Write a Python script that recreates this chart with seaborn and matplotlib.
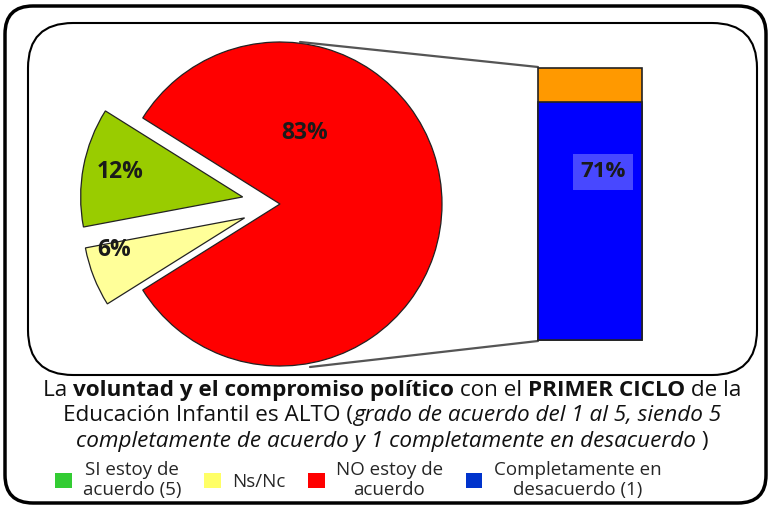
import numpy as np
import pandas as pd
import matplotlib
matplotlib.use("Agg")
import matplotlib.pyplot as plt
import seaborn as sns
from matplotlib.patches import FancyBboxPatch, Patch

# ---------------- data ----------------
pie_categories = ["SI estoy de acuerdo (5)", "Ns/Nc", "NO estoy de acuerdo"]
pie_values = [12, 6, 83]
pie_colors = ["#99CC00", "#FFFF99", "#FF0000"]

bar_categories = ["Completamente en desacuerdo (1)", "Otros NO"]
bar_values = [71, 10]
bar_colors = ["#0000FF", "#FF9900"]

legend_labels = ["SI estoy de\nacuerdo (5)", "Ns/Nc", "NO estoy de\nacuerdo",
                 "Completamente en\ndesacuerdo (1)"]
legend_colors = ["#33CC33", "#FFFF66", "#FF0000", "#0033CC"]

# ---------------- setup ----------------
sns.set_theme(style="white")
plt.rcParams['font.family'] = ['Open Sans', 'DejaVu Sans']

W, H = 771, 507
fig = plt.figure(figsize=(W / 100, H / 100), dpi=100)
ax = fig.add_axes([0, 0, 1, 1])

# frames
ax.add_patch(FancyBboxPatch((5, H - 503), 761, 497,
                            boxstyle="round,pad=0,rounding_size=28",
                            fc="white", ec="black", lw=2.5, zorder=0))
ax.add_patch(FancyBboxPatch((28, H - 375), 729, 352,
                            boxstyle="round,pad=0,rounding_size=45",
                            fc="white", ec="black", lw=1.5, zorder=0.5))

# ---------------- pie ----------------
tot = sum(pie_values)
others = pie_values[0] + pie_values[1]
start = 180 - others / tot * 360 / 2
cx, cy, R = 280, H - 204, 162
off = 38
wedges, _ = ax.pie(pie_values, colors=pie_colors, startangle=start,
                   counterclock=True, explode=[off, off, 0],
                   center=(cx, cy), radius=R, frame=True,
                   wedgeprops=dict(edgecolor="#222222", linewidth=0.9))

lab_font = dict(fontsize=16.5, fontweight="bold", color="#1a1a1a",
                ha="center", va="center")
ax.text(305, H - 133, f"{pie_values[2]}%", **lab_font)
ax.text(120, H - 172, f"{pie_values[0]}%", **lab_font)
ax.text(114, H - 250, f"{pie_values[1]}%", **lab_font)

# connector lines
ax.plot([300, 538], [H - 42, H - 67], color="#555555", lw=1.6)
ax.plot([310, 538], [H - 367, H - 341], color="#555555", lw=1.6)

ax.set_xlim(0, W)
ax.set_ylim(0, H)
ax.set_aspect("auto")
ax.axis("off")

# ---------------- stacked bar (seaborn) ----------------
bx0, bx1, by0, by1 = 538, 642, 68, 340
bax = fig.add_axes([bx0 / W, (H - by1) / H, (bx1 - bx0) / W, (by1 - by0) / H])
df = pd.DataFrame({"grp": ["NO"], "total": [sum(bar_values)], "blue": [bar_values[0]]})
sns.barplot(data=df, x="grp", y="total", color=bar_colors[1], saturation=1,
            width=1, edgecolor="#222222", linewidth=1.2, ax=bax)
sns.barplot(data=df, x="grp", y="blue", color=bar_colors[0], saturation=1,
            width=1, edgecolor="#222222", linewidth=1.2, ax=bax)
for p in bax.patches:
    p.set_clip_on(False)
bax.set_xlim(-0.5, 0.5)
bax.set_ylim(0, sum(bar_values))
bax.axis("off")
bax.text(0.625, 0.618, f"{bar_values[0]}%", transform=bax.transAxes,
         fontsize=16, fontweight="bold", color="#1a1a1a", ha="center", va="center",
         bbox=dict(boxstyle="square,pad=0.35", fc="#4848FF", ec="none"))

# ---------------- caption (mixed styles) ----------------
fig.canvas.draw()
renderer = fig.canvas.get_renderer()


def seg_width(s, size, weight, style):
    t1 = ax.text(0, 0, "|" + s + "|", fontsize=size, fontweight=weight, fontstyle=style)
    t2 = ax.text(0, 0, "||", fontsize=size, fontweight=weight, fontstyle=style)
    w = t1.get_window_extent(renderer).width - t2.get_window_extent(renderer).width
    t1.remove()
    t2.remove()
    return w


def rich_line(ycenter, segments, size, xc=392):
    widths = [seg_width(s, size, wt, st) for s, wt, st in segments]
    x = xc - sum(widths) / 2
    for (s, wt, st), w in zip(segments, widths):
        ax.text(x, H - ycenter, s, fontsize=size, fontweight=wt, fontstyle=st,
                ha="left", va="baseline", color="#111111")
        x += w


CAP = 16.2
rich_line(396, [("La ", "normal", "normal"),
                ("voluntad y el compromiso político", "bold", "normal"),
                (" con el ", "normal", "normal"),
                ("PRIMER CICLO", "bold", "normal"),
                (" de la", "normal", "normal")], CAP)
rich_line(421, [("Educación Infantil es ALTO (", "normal", "normal"),
                ("grado de acuerdo del 1 al 5, siendo 5", "normal", "italic")], CAP)
rich_line(447, [("completamente de acuerdo y 1 completamente en desacuerdo", "normal", "italic"),
                (" )", "normal", "normal")], CAP)

# ---------------- legend ----------------
handles = [Patch(facecolor=c, edgecolor="none") for c in legend_colors]
leg = fig.legend(handles, legend_labels, ncol=4, loc="center",
                 bbox_to_anchor=(358 / W, (H - 480) / H), frameon=False,
                 fontsize=13.5, handlelength=0.9, handleheight=0.9,
                 handletextpad=0.6, columnspacing=1.2, labelspacing=0.0)
for t in leg.get_texts():
    t.set_multialignment("center")
    t.set_linespacing(1.15)

fig.savefig("out.png", dpi=100)
